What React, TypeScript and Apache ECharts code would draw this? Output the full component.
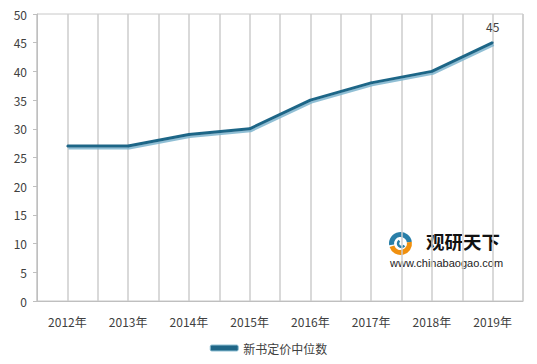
import React, { useEffect, useRef } from "react";
import * as echarts from "echarts";

const categories = ["2012年", "2013年", "2014年", "2015年", "2016年", "2017年", "2018年", "2019年"];
const values = [27, 27, 29, 30, 35, 38, 40, 45];
const seriesName = "新书定价中位数";
const halfSlots = Array.from({ length: 16 }, (_, i) => String(i));

const FONT = "'Noto Sans CJK SC', 'Open Sans', sans-serif";

export default function App() {
  const ref = useRef<HTMLDivElement>(null);
  useEffect(() => {
    if (!ref.current) return;
    const chart = echarts.init(ref.current, null, { renderer: "svg" });
    const lastIdx = values.length - 1;
    chart.setOption({
      animation: false,
      backgroundColor: "#ffffff",
      grid: {
        left: 37,
        right: 14,
        top: 14,
        bottom: 63,
        show: true,
        borderColor: "#c8c8c8",
        borderWidth: 1,
      },
      legend: {
        bottom: 5,
        left: "center",
        itemWidth: 28,
        itemHeight: 6,
        icon: "roundRect",
        itemStyle: { color: "#1f6687", borderColor: "#8fc0d4", borderWidth: 1 },
        textStyle: { fontFamily: FONT, fontSize: 12, color: "#404040" },
        data: [seriesName],
      },
      xAxis: [
        {
          type: "category",
          data: categories,
          boundaryGap: true,
          axisLine: { show: true, lineStyle: { color: "#bfbfbf", width: 1 } },
          axisTick: { show: false },
          splitLine: { show: false },
          axisLabel: { fontFamily: FONT, fontSize: 12, color: "#404040", margin: 14 },
        },
        {
          type: "category",
          data: halfSlots,
          boundaryGap: true,
          position: "bottom",
          axisLine: { show: false },
          axisTick: { show: false },
          axisLabel: { show: false },
          splitLine: { show: true, interval: 0, lineStyle: { color: "#cccccc", width: 1.5 } },
        },
      ],
      yAxis: {
        type: "value",
        min: 0,
        max: 50,
        interval: 5,
        axisLine: { show: true, lineStyle: { color: "#bfbfbf", width: 1 } },
        axisTick: { show: true, length: 4, lineStyle: { color: "#bfbfbf" } },
        splitLine: { show: false },
        axisLabel: { fontFamily: FONT, fontSize: 12, color: "#404040", margin: 10 },
      },
      series: [
        {
          name: seriesName,
          type: "line",
          xAxisIndex: 0,
          data: values.map((v, i) =>
            i === lastIdx
              ? {
                  value: v,
                  label: {
                    show: true,
                    position: "top",
                    distance: 9,
                    fontFamily: FONT,
                    fontSize: 12,
                    color: "#404040",
                  },
                }
              : v
          ),
          symbol: "circle",
          symbolSize: 2,
          showSymbol: true,
          lineStyle: {
            color: "#1f6687",
            width: 3,
            shadowColor: "rgba(125,180,205,0.85)",
            shadowOffsetX: 1,
            shadowOffsetY: 2,
            shadowBlur: 0,
          },
          itemStyle: { color: "#1f6687" },
        },
      ],
      graphic: [
        {
          type: "group",
          left: 389,
          top: 232,
          children: [
            {
              type: "arc",
              shape: { cx: 12, cy: 12, r: 9, startAngle: Math.PI * 0.95, endAngle: Math.PI * 1.95 },
              style: { stroke: "#2a7fa8", lineWidth: 5, fill: "none" },
            },
            {
              type: "arc",
              shape: { cx: 12, cy: 12, r: 9, startAngle: -Math.PI * 0.05, endAngle: Math.PI * 0.9 },
              style: { stroke: "#f0900f", lineWidth: 5, fill: "none" },
            },
            {
              type: "arc",
              shape: { cx: 13, cy: 12, r: 3.5, startAngle: Math.PI * 0.2, endAngle: Math.PI * 1.3 },
              style: { stroke: "#2a7fa8", lineWidth: 2.5, fill: "none" },
            },
          ],
        },
        {
          type: "text",
          left: 426,
          top: 232,
          style: {
            text: "观研天下",
            fontFamily: "'Noto Sans CJK SC', sans-serif",
            fontSize: 18.5,
            fontWeight: "bold",
            fill: "#111111",
          },
        },
        {
          type: "text",
          left: 390,
          top: 257,
          style: {
            text: "www.chinabaogao.com",
            fontFamily: "'Liberation Sans', Arial, sans-serif",
            fontSize: 11,
            fill: "#222222",
          },
        },
      ],
    });
    return () => chart.dispose();
  }, []);
  return <div ref={ref} style={{ width: 537, height: 364, margin: -8 }} />;
}
